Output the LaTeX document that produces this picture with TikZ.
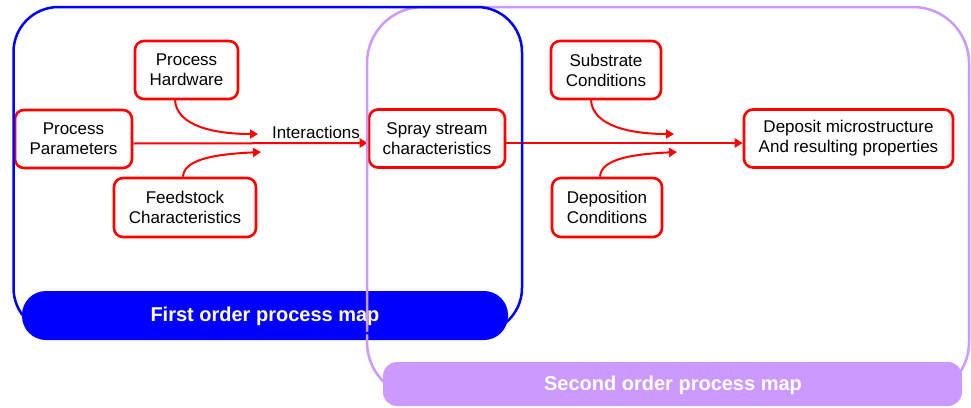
\documentclass[tikz,border=0pt]{standalone}
\usepackage{fontspec}
\setmainfont{Liberation Sans}
\usetikzlibrary{arrows.meta}
\definecolor{mapblue}{HTML}{0000FF}
\definecolor{maplilac}{HTML}{CC99FF}
\definecolor{boxred}{HTML}{FF0000}
\begin{document}
\begin{tikzpicture}[x=1pt,y=-1pt,
  factor/.style={draw=boxred, line width=2.6pt, rounded corners=9pt, fill=white,
    align=center, inner sep=0pt, font=\fontsize{17}{20}\selectfont, text=black},
  link/.style={draw=boxred, line width=2pt, -{Triangle[length=8pt,width=9pt]}},
  bartext/.style={text=white, font=\bfseries\fontsize{20}{24}\selectfont, inner sep=0pt}]
\useasboundingbox (0,0) rectangle (971,407);

% factor boxes
\node[factor, minimum width=103pt, minimum height=58pt] (hw) at (186.5,70) {Process\\Hardware};
\node[factor, minimum width=117pt, minimum height=58pt] (pp) at (73.5,139) {Process\\Parameters};
\node[factor, minimum width=142pt, minimum height=59pt] (fs) at (185,207.5) {Feedstock\\Characteristics};
\node[factor, minimum width=136pt, minimum height=58pt] (sp) at (437,138.5) {Spray stream\\characteristics};
\node[factor, minimum width=110pt, minimum height=58pt] (sc) at (606,70) {Substrate\\Conditions};
\node[factor, minimum width=110pt, minimum height=59pt] (dc) at (607,207.5) {Deposition\\Conditions};
\node[factor, minimum width=209pt, minimum height=58pt] (dm) at (848.5,138.5) {Deposit microstructure\\And resulting properties};

% arrow ends where the side influences meet the main flow
\coordinate (m1) at (258,134);
\coordinate (m2) at (261,152);
\coordinate (m3) at (674,134);
\coordinate (m4) at (677,152);

% main flow and interactions
\draw[link] ([yshift=-4.5pt]pp.east) -- ([yshift=-4.5pt]sp.west);
\node[font=\fontsize{17}{20}\selectfont, inner sep=0pt] (int) at (316,132) {Interactions};
\draw[link] ([xshift=-11.5pt]hw.south) .. controls +(2,26) and +(-43,0) .. (m1);
\draw[link] ([xshift=-2pt]fs.north) .. controls +(1,-19) and +(-40,2) .. (m2);
\draw[link] ([yshift=-4.5pt]sp.east) -- ([yshift=-4.5pt]dm.west);
\draw[link] ([xshift=-15pt]sc.south) .. controls +(2,26) and +(-43,0) .. (m3);
\draw[link] ([xshift=-7pt]dc.north) .. controls +(1,-19) and +(-40,2) .. (m4);

% first order map banner
\path[fill=mapblue, rounded corners=24pt] (22,291) rectangle (508,340);
\node[bartext] (first) at (265,316) {First order process map};

% outlines of the two maps
\draw[maplilac, line width=2.5pt, rounded corners=56pt] (367,7) rectangle (969,398);
\draw[mapblue, line width=2.5pt, rounded corners=45pt] (13.5,7) rectangle (522,333);

% second order map banner
\path[fill=maplilac, rounded corners=14pt] (383,362) rectangle (962,406);
\node[bartext] (second) at (673,385) {Second order process map};
\end{tikzpicture}
\end{document}
